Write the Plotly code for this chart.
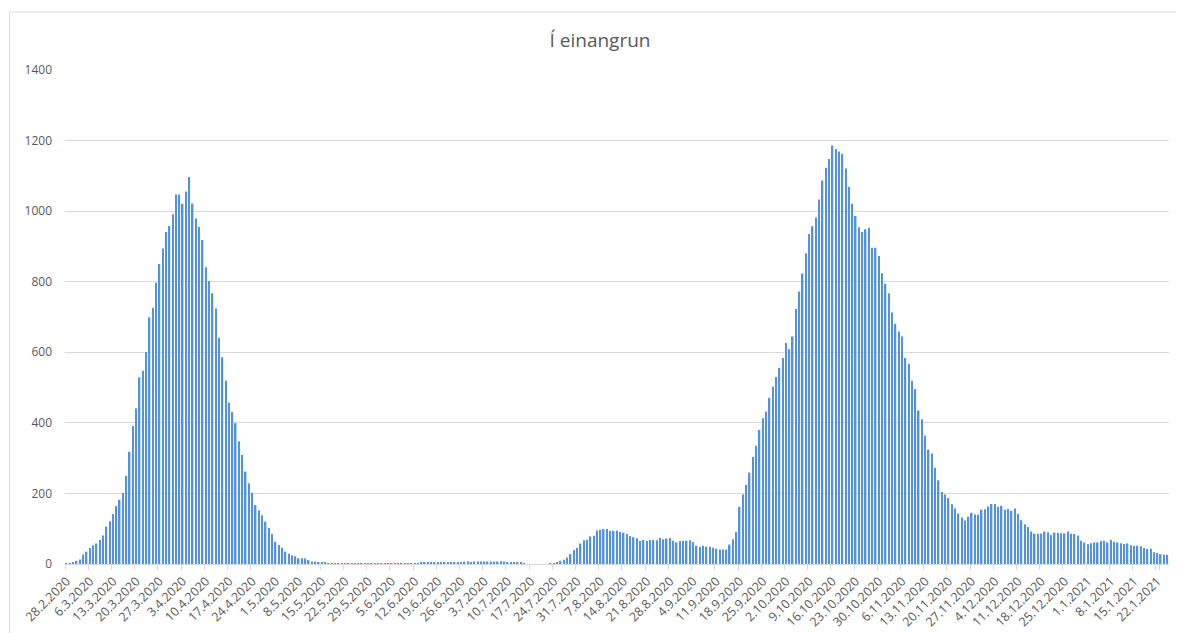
import datetime as dt
import plotly.graph_objects as go

# ---- data -------------------------------------------------------------
start_date = dt.date(2020, 2, 28)

wave1 = [1, 1, 3, 9, 13, 27, 35, 45, 53, 58, 68, 81, 106, 121, 142, 164, 182, 201,
         250, 318, 391, 441, 529, 548, 601, 699, 726, 797, 850, 894, 941, 958, 991,
         1047, 1047, 1021, 1056, 1097, 1022, 979, 955, 918, 841, 802, 767, 724, 641,
         586, 519, 458, 431, 399, 348, 309, 262, 229, 202, 167, 152, 138, 120, 102,
         85, 63, 54, 46, 35, 29, 24, 22, 16, 16, 16, 11, 7, 7, 5, 3, 3]

summer = [2, 2, 2, 2, 2, 1, 1, 1, 1, 1, 1, 1, 2, 1, 1, 1, 1, 1, 1, 1, 1, 1, 2, 2,
          2, 2, 2, 2, 3, 3, 3, 4, 3, 4, 4, 4, 5, 5, 5, 6, 6, 7, 7, 6, 7, 7, 7, 7, 7,
          7, 7, 7, 8, 7, 5, 5, 4, 3, 3, 2, 0, 0, 0, 0, 0, 0, 0]

wave2 = [1, 2, 3, 9, 12, 18, 28, 40, 45, 58, 67, 69, 78, 80, 95, 97, 99, 99, 94, 94,
         95, 91, 89, 85, 79, 76, 73, 66, 68, 65, 68, 68, 67, 74, 70, 72, 74, 66, 61,
         65, 66, 66, 67, 62, 52, 49, 52, 49, 49, 46, 43, 41, 41, 41, 55, 70, 91,
         162, 197, 224, 259, 303, 335, 380, 413, 432, 471, 502, 530, 556, 584, 626,
         609, 645, 723, 772, 823, 881, 935, 957, 982, 1033, 1087, 1123, 1148, 1186,
         1176, 1169, 1163, 1121, 1069, 1021, 986, 954, 941, 949, 953, 896, 896, 873,
         824, 794, 767, 713, 681, 659, 645, 584, 567, 519, 496, 435, 410, 364, 324,
         313, 273, 237, 204, 197, 187, 169, 157, 143]

winter = [132, 123, 134, 145, 140, 140, 154, 155, 163, 170, 170, 162, 165, 154, 156,
          151, 157, 142, 124, 113, 105, 92, 86, 86, 86, 92, 90, 82, 89, 88, 87, 87,
          92, 86, 85, 81, 66, 61, 56, 59, 61, 61, 65, 66, 61, 68, 63, 61, 59, 57, 58,
          53, 52, 52, 50, 45, 43, 43, 33, 31, 28, 26, 26]

values = wave1 + summer + wave2 + winter


def fmt(d):
    return f"{d.day}.{d.month}.{d.year}"


dates = [fmt(start_date + dt.timedelta(days=i)) for i in range(len(values))]
tick_labels = dates[::7]

# ---- figure -----------------------------------------------------------
fig = go.Figure()
fig.add_trace(go.Bar(
    x=dates, y=values,
    marker=dict(color="#5592dc", line=dict(width=0)),
    hovertemplate="%{x}: %{y}<extra></extra>",
))

OFF = 8  # page body margin
W, H = 1184 - OFF, 633 - OFF
ml, mr, mt, mb = 65 - OFF, 15, 70 - OFF, 69
pw, ph = W - ml - mr, H - mt - mb


def px_x(p):
    return (p - OFF - ml) / pw


def px_y(p):
    return (H - mb - (p - OFF)) / ph


fig.update_layout(
    width=W, height=H,
    margin=dict(l=ml, r=mr, t=mt, b=mb, autoexpand=False),
    paper_bgcolor="white", plot_bgcolor="white",
    bargap=0.55,
    showlegend=False,
    font=dict(family="Open Sans, Liberation Sans, sans-serif", color="#595959", size=12),
    title=dict(text="Í einangrun", x=(600 - OFF) / W, xanchor="center",
               y=1 - (40 - OFF) / H, yanchor="middle",
               font=dict(size=19, color="#595959", family="Open Sans, sans-serif")),
    xaxis=dict(
        type="category", automargin=False,
        tickmode="array", tickvals=tick_labels, ticktext=tick_labels,
        tickangle=-45, tickfont=dict(size=12.5, color="#595959"),
        ticks="outside", ticklen=5, tickcolor="#d9d9d9", tickson="boundaries",
        ticklabelstandoff=4,
        showline=True, linecolor="#d9d9d9", linewidth=1,
        showgrid=False, zeroline=False,
        range=[-0.5, len(values) - 0.5],
    ),
    yaxis=dict(
        range=[0, 1400], dtick=200, tick0=0, automargin=False,
        showgrid=True, gridcolor="#d9d9d9", gridwidth=1,
        zeroline=False, showline=False,
        tickfont=dict(size=12, color="#595959"),
        ticklabelstandoff=12,
    ),
    shapes=[dict(type="rect", xref="paper", yref="paper",
                 x0=px_x(9.5), x1=px_x(1200), y0=px_y(650), y1=px_y(12),
                 line=dict(color="#d9d9d9", width=1), layer="below")],
)

fig.write_html("out.html")
